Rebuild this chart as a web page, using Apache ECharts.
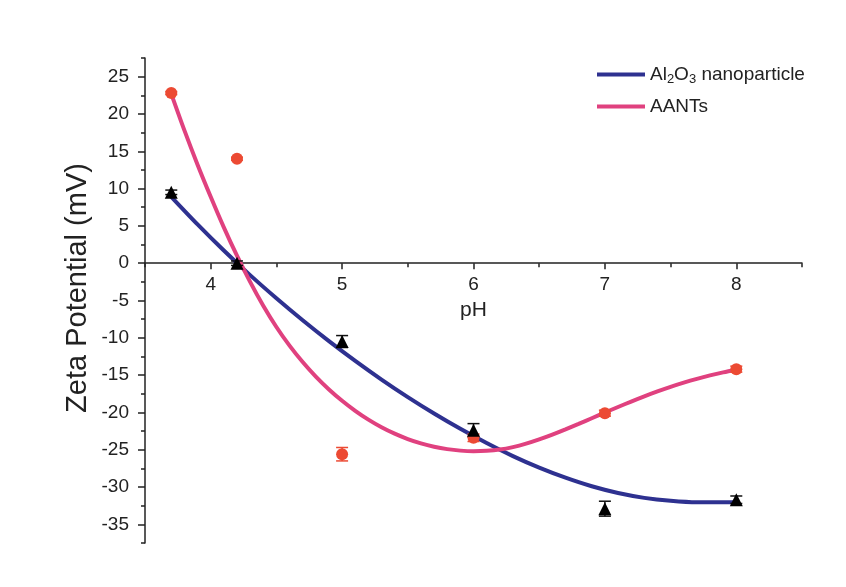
<!DOCTYPE html>
<html>
<head>
<meta charset="utf-8">
<script src="https://cdn.jsdelivr.net/npm/echarts@6/dist/echarts.min.js"></script>
<style>
html,body{margin:0;padding:0;background:#fff;}
#chart{width:846px;height:587px;}
</style>
</head>
<body>
<div id="chart"></div>
<script>
// Measured points
var phPoints = [3.7, 4.2, 5, 6, 7, 8];
var al2o3Values = [9.5, 0, -10.5, -22.4, -32.9, -31.7];
var al2o3Errors = [0.3, 0.3, 0.8, 0.9, 1.0, 0.5];
var aantsValues = [22.8, 14.0, -25.6, -23.4, -20.1, -14.2];
var aantsErrors = [0.2, 0.2, 0.9, 0.5, 0.4, 0.4];

// Fitted curves
var al2o3FitX = [3.7, 3.9, 4.1, 4.3, 4.5, 4.7, 4.9, 5.1, 5.3, 5.5, 5.7, 5.9, 6.1, 6.3, 6.5, 6.7, 6.9, 7.1, 7.3, 7.5, 7.7, 7.9, 8.0];
var al2o3FitY = [8.9, 5.2, 1.7, -1.6, -4.7, -7.65, -10.45, -13.1, -15.6, -17.95, -20.15, -22.2, -24.1, -25.85, -27.4, -28.75, -29.9, -30.8, -31.45, -31.85, -32.05, -32.05, -32.0];
var aantsFitX = [3.7, 3.8, 3.9, 4.0, 4.1, 4.2, 4.3, 4.4, 4.5, 4.6, 4.7, 4.8, 4.9, 5.0, 5.1, 5.2, 5.3, 5.4, 5.5, 5.6, 5.7, 5.8, 5.9, 6.0, 6.1, 6.2, 6.3, 6.4, 6.5, 6.6, 6.7, 6.8, 6.9, 7.0, 7.1, 7.2, 7.3, 7.4, 7.5, 7.6, 7.7, 7.8, 7.9, 8.0];
var aantsFitY = [22.7, 17.8, 13.2, 8.9, 4.8, 1.0, -2.5, -5.7, -8.55, -11.05, -13.25, -15.2, -16.92, -18.44, -19.79, -20.97, -21.99, -22.85, -23.57, -24.15, -24.6, -24.92, -25.12, -25.2, -25.15, -24.98, -24.65, -24.19, -23.62, -22.98, -22.28, -21.54, -20.78, -20.02, -19.27, -18.54, -17.84, -17.18, -16.57, -16.01, -15.5, -15.04, -14.63, -14.27];

// Axis ticks
var xMajorTicks = [4, 5, 6, 7, 8];
var yMajorTicks = [-35, -30, -25, -20, -15, -10, -5, 0, 5, 10, 15, 20, 25];
var yMin = -37.5, yMax = 27.5;

var seriesNames = ['Al2O3 nanoparticle', 'AANTs'];

var FONT = 'Liberation Sans, Arial, sans-serif';
var AX = '#222';
var BLUE = '#2e3190';
var PINK = '#e0417f';
var RED = '#ec4a33';

var GRID = { left: 145, right: 44, top: 58, bottom: 44 };
var plotH = 587 - GRID.top - GRID.bottom;
// x axis crosses the y axis at 0: shift it up from the grid bottom by the scale
var xAxisOffset = -plotH * (0 - yMin) / (yMax - yMin);

function zip(a, b) { return a.map(function (v, i) { return [v, b[i]]; }); }
function zip3(a, b, c) { return a.map(function (v, i) { return [v, b[i], c[i]]; }); }

function errRender(color) {
  return function (params, api) {
    var x = api.value(0), y = api.value(1), e = api.value(2);
    var top = api.coord([x, y + e]);
    var bot = api.coord([x, y - e]);
    var hw = 6;
    var st = { stroke: color, lineWidth: 1.5 };
    return {
      type: 'group',
      children: [
        { type: 'line', shape: { x1: top[0], y1: top[1], x2: bot[0], y2: bot[1] }, style: st },
        { type: 'line', shape: { x1: top[0] - hw, y1: top[1], x2: top[0] + hw, y2: top[1] }, style: st },
        { type: 'line', shape: { x1: bot[0] - hw, y1: bot[1], x2: bot[0] + hw, y2: bot[1] }, style: st }
      ]
    };
  };
}

var chart = echarts.init(document.getElementById('chart'));
chart.setOption({
  backgroundColor: '#ffffff',
  animation: false,
  textStyle: { fontFamily: FONT },
  grid: { left: GRID.left, right: GRID.right, top: GRID.top, bottom: GRID.bottom, outerBoundsMode: 'none' },
  legend: {
    data: seriesNames,
    orient: 'vertical',
    left: 592,
    top: 60,
    icon: 'rect',
    itemWidth: 48,
    itemHeight: 4,
    itemGap: 11,
    textStyle: {
      fontSize: 19, color: AX, fontFamily: FONT,
      rich: { sub: { fontSize: 13, color: AX, fontFamily: FONT, padding: [10, 0, 0, 0] } }
    },
    formatter: function (n) {
      if (n === 'Al2O3 nanoparticle') return 'Al{sub|2}O{sub|3} nanoparticle';
      return n;
    }
  },
  xAxis: [
    {
      type: 'value', min: 3.5, max: 8.5, position: 'bottom', offset: xAxisOffset,
      axisLine: { show: true, onZero: false, lineStyle: { color: AX, width: 1.5 } },
      axisTick: { show: true, customValues: xMajorTicks, length: 6, lineStyle: { color: AX, width: 1.5 } },
      axisLabel: { customValues: xMajorTicks, fontSize: 19, color: AX, margin: 12, fontFamily: FONT },
      splitLine: { show: false },
      name: 'pH', nameLocation: 'middle', nameGap: 37,
      nameTextStyle: { fontSize: 21, color: AX, fontFamily: FONT }
    },
    {
      type: 'value', min: 3.5, max: 8.5, interval: 0.5, position: 'bottom', offset: xAxisOffset,
      axisLine: { show: false, onZero: false },
      axisTick: { show: true, length: 4, lineStyle: { color: AX, width: 1.5 } },
      axisLabel: { show: false },
      splitLine: { show: false }
    }
  ],
  yAxis: [
    {
      type: 'value', min: yMin, max: yMax,
      axisLine: { show: true, onZero: false, lineStyle: { color: AX, width: 1.5 } },
      axisTick: { show: true, customValues: yMajorTicks, length: 7, lineStyle: { color: AX, width: 1.5 } },
      axisLabel: { customValues: yMajorTicks, fontSize: 19, color: AX, margin: 16, fontFamily: FONT },
      splitLine: { show: false }
    },
    {
      type: 'value', min: yMin, max: yMax, interval: 2.5, position: 'left',
      axisLine: { show: false, onZero: false },
      axisTick: { show: true, length: 4, lineStyle: { color: AX, width: 1.5 } },
      axisLabel: { show: false },
      splitLine: { show: false }
    }
  ],
  graphic: [
    {
      type: 'text', x: 78, y: 288, rotation: Math.PI / 2,
      style: { text: 'Zeta Potential (mV)', font: '29px ' + FONT, fill: AX, align: 'center', verticalAlign: 'middle' }
    }
  ],
  series: [
    {
      name: seriesNames[0], type: 'line', data: zip(al2o3FitX, al2o3FitY), smooth: 0.3,
      showSymbol: false, symbol: 'none', itemStyle: { color: BLUE },
      lineStyle: { color: BLUE, width: 4 }, z: 2
    },
    {
      name: seriesNames[1], type: 'line', data: zip(aantsFitX, aantsFitY), smooth: 0.3,
      showSymbol: false, symbol: 'none', itemStyle: { color: PINK },
      lineStyle: { color: PINK, width: 4 }, z: 2
    },
    {
      type: 'custom', renderItem: errRender('#111'), data: zip3(phPoints, al2o3Values, al2o3Errors), z: 3
    },
    {
      type: 'custom', renderItem: errRender(RED), data: zip3(phPoints, aantsValues, aantsErrors), z: 3
    },
    {
      type: 'scatter', data: zip(phPoints, aantsValues), symbol: 'circle', symbolSize: 12,
      itemStyle: { color: RED, opacity: 1 }, z: 4
    },
    {
      type: 'scatter', data: zip(phPoints, al2o3Values), symbol: 'triangle', symbolSize: 13,
      itemStyle: { color: '#000', opacity: 1 }, z: 5
    }
  ]
});
</script>
</body>
</html>
